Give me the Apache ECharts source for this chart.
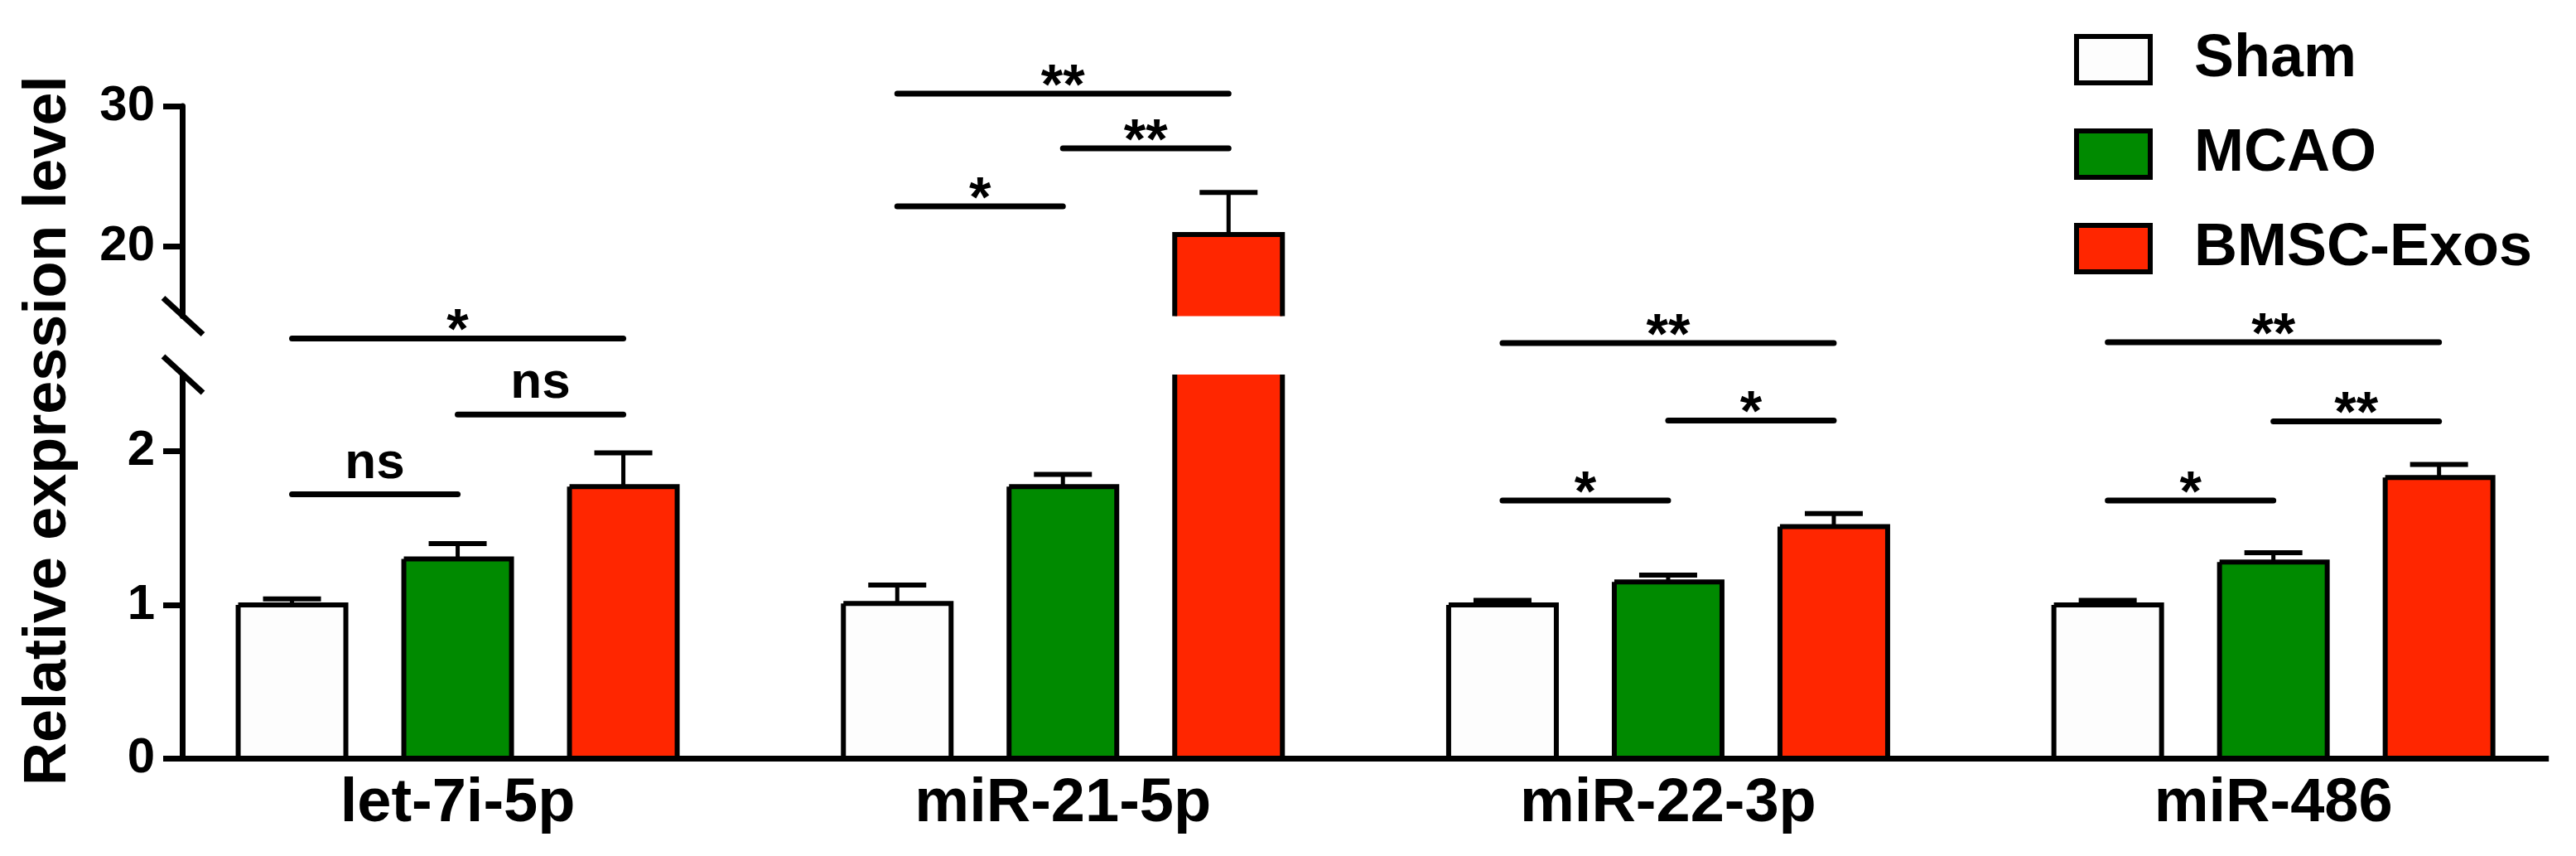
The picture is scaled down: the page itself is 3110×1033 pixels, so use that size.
<!DOCTYPE html>
<html><head><meta charset="utf-8">
<script src="https://cdn.jsdelivr.net/npm/echarts@6/dist/echarts.min.js"></script>
<style>html,body{margin:0;padding:0;background:#fff}#c{width:3110px;height:1033px}</style>
</head><body><div id="c"></div>
<script>
// ---------- data ----------
const categories = ['let-7i-5p', 'miR-21-5p', 'miR-22-3p', 'miR-486'];
const groupNames = ['Sham', 'MCAO', 'BMSC-Exos'];
const shamMean = [1.00, 1.01, 1.00, 1.00];
const shamSem  = [0.04, 0.12, 0.03, 0.03];
const mcaoMean = [1.30, 1.77, 1.15, 1.28];
const mcaoSem  = [0.10, 0.08, 0.045, 0.06];
const exosMean = [1.77, 20.83, 1.51, 1.83];
const exosSem  = [0.22, 3.00, 0.085, 0.085];
const lowerTicks = [0, 1, 2];
const upperTicks = [20, 30];
// significance brackets
const sigCategory = [0, 0, 0, 1, 1, 1, 2, 2, 2, 3, 3, 3];
const sigFrom     = [0, 1, 0, 0, 1, 0, 0, 1, 0, 0, 1, 0];
const sigTo       = [1, 2, 2, 1, 2, 2, 1, 2, 2, 1, 2, 2];
const sigLevel    = [1.72, 2.24, 2.735, 22.84, 26.98, 30.89, 1.68, 2.20, 2.705, 1.68, 2.195, 2.71];
const sigLabel    = ['ns', 'ns', '*', '*', '**', '**', '*', '*', '**', '*', '**', '**'];
const sigPanel    = [0, 0, 0, 1, 1, 1, 0, 0, 0, 0, 0, 0];

// ---------- style / layout ----------
const FONT = '"Liberation Sans", Arial, sans-serif';
const colors = ['#fdfdfd', '#008a00', '#ff2600'];
const LOWER = { min: 0, max: 2.5 };
const UPPER = { min: 15, max: 30 };
const STEP = 200, BW = 130, CAP = 35;
const GRID_LEFT = 187.2, GRID_WIDTH = 2927;
const AXIS_X = 220;
const AXIS_OFFSET = -(AXIS_X - GRID_LEFT);

const means = [shamMean, mcaoMean, exosMean];
const sems = [shamSem, mcaoSem, exosSem];

function barRenderer(panel, gi) {
  return function (params, api) {
    const cat = api.value(0), v = api.value(1), e = api.value(2);
    const baseVal = panel === 0 ? LOWER.min : UPPER.min;
    const base = api.coord([cat, baseVal]);
    const cx = base[0] + (gi - 1) * STEP;
    const xl = cx - BW / 2, xr = cx + BW / 2;
    const y0 = base[1];
    const children = [];
    let capped = false, yt;
    if (panel === 0) {
      capped = v > LOWER.max;
      yt = api.coord([cat, Math.min(v, LOWER.max)])[1];
    } else {
      if (v <= UPPER.min) return { type: 'group', children: [] };
      yt = api.coord([cat, Math.min(v, UPPER.max)])[1];
    }
    children.push({ type: 'rect', shape: { x: xl, y: yt, width: BW, height: y0 - yt },
      style: { fill: colors[gi] } });
    let pts;
    if (panel === 0) {
      pts = capped ? [[xl, yt], [xl, y0], [xr, y0], [xr, yt]]
                   : [[xl, yt], [xl, y0], [xr, y0], [xr, yt], [xl, yt]];
    } else {
      pts = [[xl, y0], [xl, yt], [xr, yt], [xr, y0]];
    }
    children.push({ type: 'polyline', shape: { points: pts },
      style: { stroke: '#000', lineWidth: 6, fill: null, lineJoin: 'miter' } });
    if (!capped) {
      const ye = api.coord([cat, v + e])[1];
      children.push({ type: 'line', shape: { x1: cx, y1: yt, x2: cx, y2: ye },
        style: { stroke: '#000', lineWidth: 5 } });
      children.push({ type: 'line', shape: { x1: cx - CAP, y1: ye, x2: cx + CAP, y2: ye },
        style: { stroke: '#000', lineWidth: 6 } });
    }
    return { type: 'group', children };
  };
}

function sigRenderer(params, api) {
  const i = api.value(2);
  const c = api.coord([api.value(0), api.value(1)]);
  const x1 = c[0] + (sigFrom[i] - 1) * STEP;
  const x2 = c[0] + (sigTo[i] - 1) * STEP;
  const y = c[1];
  const isNs = sigLabel[i] === 'ns';
  return { type: 'group', children: [
    { type: 'line', shape: { x1: x1, y1: y, x2: x2, y2: y },
      style: { stroke: '#000', lineWidth: 7, lineCap: 'round' } },
    { type: 'text', x: (x1 + x2) / 2, y: isNs ? y - 37 : y - 7,
      style: { text: sigLabel[i], fill: '#000',
        font: (isNs ? 'bold 62px ' : 'bold 68px ') + FONT,
        align: 'center', verticalAlign: 'middle',
        textAlign: 'center', textVerticalAlign: 'middle' } }
  ] };
}

const series = [];
for (let gi = 0; gi < 3; gi++) {
  const data = categories.map((c, i) => [i, means[gi][i], sems[gi][i]]);
  series.push({ type: 'custom', name: groupNames[gi], xAxisIndex: 0, yAxisIndex: 0,
    renderItem: barRenderer(0, gi), data: data, encode: { x: 0, y: 1 }, z: 2 });
  series.push({ type: 'custom', name: groupNames[gi], xAxisIndex: 1, yAxisIndex: 1,
    renderItem: barRenderer(1, gi), data: data, encode: { x: 0, y: 1 }, z: 2 });
}
[0, 1].forEach(p => {
  const data = [];
  sigLevel.forEach((lv, i) => { if (sigPanel[i] === p) data.push([sigCategory[i], lv, i]); });
  series.push({ type: 'custom', name: 'sig' + p, xAxisIndex: p, yAxisIndex: p,
    renderItem: sigRenderer, data: data, encode: { x: 0, y: 1 }, z: 3 });
});

const yAxisCommon = (grid, ext, ticks) => ({
  gridIndex: grid, type: 'value', min: ext.min, max: ext.max, offset: AXIS_OFFSET,
  axisLine: { show: true, lineStyle: { color: '#000', width: 7 } },
  axisTick: { show: true, length: 23, customValues: ticks, lineStyle: { color: '#000', width: 7 } },
  axisLabel: { customValues: ticks, margin: 33, fontSize: 60, fontWeight: 'bold', color: '#000', fontFamily: FONT },
  splitLine: { show: false }
});

const chart = echarts.init(document.getElementById('c'), null, { renderer: 'canvas' });
chart.setOption({
  animation: false,
  backgroundColor: '#fff',
  textStyle: { fontFamily: FONT },
  grid: [
    { left: GRID_LEFT, width: GRID_WIDTH, top: 452, height: 463.5 },
    { left: GRID_LEFT, width: GRID_WIDTH, top: 128, height: 253.5 }
  ],
  xAxis: [
    { gridIndex: 0, type: 'category', data: categories,
      axisLine: { show: false }, axisTick: { show: false },
      axisLabel: { margin: 18, fontSize: 74, fontWeight: 'bold', color: '#000', fontFamily: FONT } },
    { gridIndex: 1, type: 'category', data: categories, show: false }
  ],
  yAxis: [ yAxisCommon(0, LOWER, lowerTicks), yAxisCommon(1, UPPER, upperTicks) ],
  legend: {
    orient: 'vertical', left: 2499, top: 31, itemWidth: 89, itemHeight: 56, itemGap: 42,
    icon: 'rect', selectedMode: false,
    textStyle: { fontSize: 72, fontWeight: 'bold', color: '#000', fontFamily: FONT, padding: [0, 0, 0, 48], lineHeight: 56 },
    data: groupNames.map((n, i) => ({ name: n, icon: 'rect',
      itemStyle: { color: colors[i], borderColor: '#000', borderWidth: 6 } }))
  },
  series: series
});

// decorations: x-axis baseline, axis-break slashes, y title
const y0 = chart.convertToPixel({ yAxisIndex: 0 }, 0);
const yLowTop = chart.convertToPixel({ yAxisIndex: 0 }, LOWER.max);
const yUpBot = chart.convertToPixel({ yAxisIndex: 1 }, UPPER.min);
const firstC = chart.convertToPixel({ xAxisIndex: 0 }, 0);
const lastC = chart.convertToPixel({ xAxisIndex: 0 }, categories.length - 1);
const xEnd = lastC + (firstC - AXIS_X);
const yTitleMid = (chart.convertToPixel({ yAxisIndex: 1 }, UPPER.max) + y0) / 2;
const slash = (yc) => ({ type: 'line', shape: { x1: AXIS_X - 23, y1: yc - 22, x2: AXIS_X + 25, y2: yc + 22 },
  style: { stroke: '#000', lineWidth: 7 }, z: 10 });
chart.setOption({
  graphic: [
    { type: 'line', shape: { x1: AXIS_X - 3, y1: y0, x2: xEnd, y2: y0 }, style: { stroke: '#000', lineWidth: 7 }, z: 10 },
    slash(yUpBot), slash(yLowTop),
    { type: 'text', x: 59, y: yTitleMid - 2, rotation: Math.PI / 2,
      style: { text: 'Relative expression level', font: 'bold 72px ' + FONT, fill: '#000',
        align: 'center', verticalAlign: 'middle', textAlign: 'center', textVerticalAlign: 'middle' } }
  ]
});
</script></body></html>
